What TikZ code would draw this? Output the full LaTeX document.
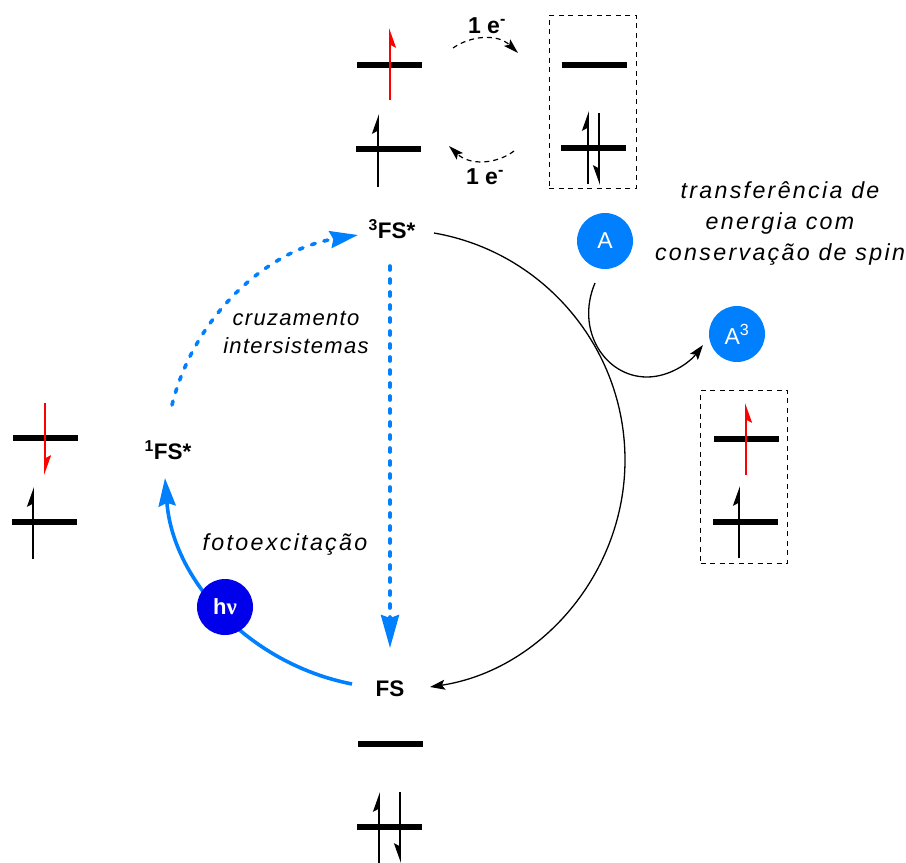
\documentclass[tikz,border=0pt]{standalone}
\usepackage{fontspec}
\setmainfont{Liberation Sans}
\newfontfamily\gregofont{Liberation Serif}
\usetikzlibrary{positioning,arrows.meta,calc}

\definecolor{azul}{RGB}{0,128,255}
\definecolor{azulescuro}{RGB}{0,0,235}

\begin{document}
\begin{tikzpicture}[
    x=1pt, y=-1pt,
    on grid,
    level/.style={rectangle, fill=black, inner sep=0pt, minimum width=65pt, minimum height=6pt},
    specie/.style={font=\fontsize{22.5}{26}\selectfont\bfseries, inner sep=0pt},
    elabel/.style={font=\fontsize{23}{25}\selectfont\bfseries, inner sep=0pt},
    note/.style={font=\fontsize{22}{28}\selectfont\itshape\addfontfeature{LetterSpace=6}, align=center, inner sep=0pt},
    notelarge/.style={note, font=\fontsize{23.2}{31}\selectfont\itshape\addfontfeature{LetterSpace=10}},
    disc/.style={circle, fill=azul, text=white, minimum size=56pt, inner sep=0pt, font=\fontsize{23}{26}\selectfont},
    dbox/.style={draw, dashed, line width=1pt, dash pattern=on 5pt off 4.5pt, minimum width=87pt, minimum height=173pt, inner sep=0pt},
    spinl/.style={line width=1.9pt, -{Stealth[harpoon, length=17pt, width=12pt, inset=3pt]}},
    spinr/.style={line width=1.9pt, -{Stealth[harpoon, swap, length=17pt, width=12pt, inset=3pt]}},
    seta/.style={line width=1.3pt, -{Stealth[length=15pt, width=10pt, inset=3pt]}},
    setaet/.style={line width=1.2pt, dash pattern=on 5pt off 4pt, -{Stealth[length=15pt, width=9pt, inset=3pt]}},
    azulseta/.style={color=azul, line width=3.6pt, -{Stealth[length=28pt, width=17pt, inset=3pt]}},
    azuldash/.style={azulseta, line cap=round, dash pattern=on 4pt off 9pt},
    azulgrande/.style={azuldash, -{Stealth[length=33pt, width=18pt, inset=3pt]}}
]
\useasboundingbox (0,0) rectangle (906,863);

% Especies do ciclo
\node[specie] (s3) at (392,229) {\textsuperscript{3}FS*};
\node[specie] (s1) at (168,450) {\textsuperscript{1}FS*};
\node[specie] (fs) at (390,689) {FS};

% Niveis
\node[level, above=80pt of s3, xshift=-3.5pt] (t0) {};
\node[level, above=84pt of t0, xshift=1pt] (t1) {};
\node[level, left=122.5pt of s1, yshift=12pt] (l1) {};
\node[level, below=84pt of l1, xshift=-1pt] (l0) {};
\node[level, below=55pt of fs, xshift=0.5pt] (f1) {};
\node[level, below=83pt of f1, xshift=-1pt] (f0) {};
\node[level, right=205pt of t1] (d1) {};
\node[level, below=83pt of d1, xshift=-1pt] (d0) {};
\node[level, right=357pt of t1, yshift=-374pt] (e1) {};
\node[level, below=83pt of e1, xshift=-1pt] (e0) {};

% Caixas tracejadas
\node[dbox] (dbox1) at (592.5,101.5) {};
\node[dbox] (dbox2) at (744,476.5) {};

% Spins
\draw[spinr, red] ([xshift=0.5pt,yshift=-35pt]t1.center) -- ([xshift=0.5pt,yshift=37pt]t1.center);
\draw[spinl] ([xshift=-10.5pt,yshift=-38pt]t0.center) -- ([xshift=-10.5pt,yshift=35pt]t0.center);
\draw[spinl] ([xshift=-5.5pt,yshift=-36pt]d0.center) -- ([xshift=-5.5pt,yshift=37pt]d0.center);
\draw[spinr] ([xshift=5.5pt,yshift=35pt]d0.center) -- ([xshift=5.5pt,yshift=-37pt]d0.center);
\draw[spinl, red] ([xshift=-0.5pt,yshift=35pt]l1.center) -- ([xshift=-0.5pt,yshift=-37pt]l1.center);
\draw[spinl] ([xshift=-11.5pt,yshift=-37pt]l0.center) -- ([xshift=-11.5pt,yshift=35pt]l0.center);
\draw[spinl] ([xshift=-10.5pt,yshift=-36pt]f0.center) -- ([xshift=-10.5pt,yshift=35pt]f0.center);
\draw[spinr] ([xshift=10.5pt,yshift=35pt]f0.center) -- ([xshift=10.5pt,yshift=-36pt]f0.center);
\draw[spinr, red] ([xshift=-0.5pt,yshift=-36pt]e1.center) -- ([xshift=-0.5pt,yshift=36pt]e1.center);
\draw[spinl] ([xshift=-6.5pt,yshift=-36pt]e0.center) -- ([xshift=-6.5pt,yshift=36pt]e0.center);

% Transferencia de eletrons
\node[elabel] (e_top) at (487,26) {1 e\textsuperscript{-}};
\node[elabel] (e_bot) at (485,177) {1 e\textsuperscript{-}};
\draw[setaet] ([shift={(-34pt,-22pt)}]e_top.center) .. controls (470,36) and (497,33) .. ([shift={(31pt,-27pt)}]e_top.center);
\draw[setaet] ([shift={(29pt,26pt)}]e_bot.center) .. controls (497,164) and (470,166) .. ([shift={(-36pt,31pt)}]e_bot.center);

% Ciclo
\draw[seta] ([shift={(42pt,-4pt)}]s3.center) .. controls (544,252) and (625,348) .. (625,460)
    .. controls (625,573) and (541,670) .. ([shift={(40pt,2pt)}]fs.center);
\draw[azulseta] ([shift={(-38pt,5pt)}]fs.center) .. controls (250,664) and (173,581) .. ([shift={(-3pt,-28pt)}]s1.center);
\draw[azuldash] ([shift={(4pt,45pt)}]s1.center) .. controls (194,316) and (267,250) .. ([shift={(-34pt,-6pt)}]s3.center);
\draw[azulgrande] ([shift={(-2pt,-37pt)}]s3.center) -- ([yshift=41pt]fs.center);

% Discos
\node[disc, fill=azulescuro, font=\fontsize{22}{26}\selectfont\bfseries] (hv) at (225,607) {h{\gregofont\fontsize{23}{26}\selectfont ν}};
\node[disc] (a) at (605,241) {A};
\node[disc] (a3) at (737,334) {A\textsuperscript{3}};

% Aceptor
\draw[seta] ([shift={(-10pt,-42pt)}]a.center) .. controls (575,330) and (605,377) .. (647,377)
    .. controls (670,377) and (690,362) .. ([shift={(-34pt,-11pt)}]a3.center);

% Textos
\node[note] (cruz) at (296,332) {cruzamento\\intersistemas};
\node[notelarge] (foto) at (285,544) {fotoexcitação};
\node[notelarge] (tran) at (780,223) {transferência de\\energia com\\conservação de spin};

\end{tikzpicture}
\end{document}
